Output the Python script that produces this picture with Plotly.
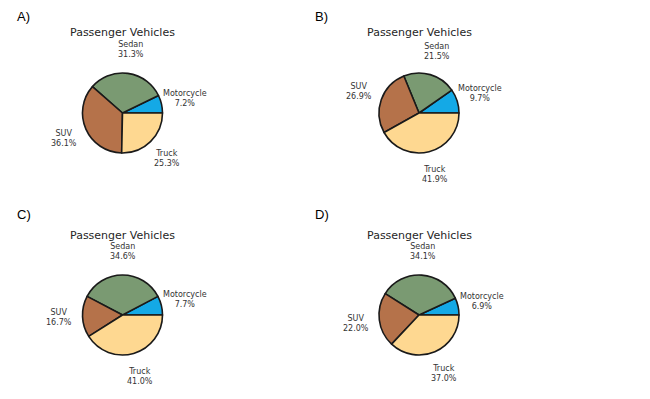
import math
import plotly.graph_objects as go

categories = ["Motorcycle", "Sedan", "SUV", "Truck"]
values_A = [7.2, 31.3, 36.1, 25.3]
values_B = [9.7, 21.5, 26.9, 41.9]
values_C = [7.7, 34.6, 16.7, 41.0]
values_D = [6.9, 34.1, 22.0, 37.0]
panel_labels = ["A)", "B)", "C)", "D)"]
chart_title = "Passenger Vehicles"
colors = ["#14a9e6", "#7a9a72", "#b5724a", "#fed891"]

OFF = 8  # page body margin in the browser
W, H = 650 - OFF, 399 - OFF
R = 40  # pie radius in px
LABEL_DIST = 1.6
centers = [(122.5 - OFF, 113 - OFF), (419 - OFF, 113 - OFF),
           (122.5 - OFF, 315 - OFF), (419 - OFF, 315 - OFF)]
panel_pos = [(16 - OFF, 7 - OFF), (314 - OFF, 7 - OFF),
             (16 - OFF, 206 - OFF), (314 - OFF, 206 - OFF)]
all_values = [values_A, values_B, values_C, values_D]

fig = go.Figure()
annotations = []
for vals, (cx, cy), plab, (px, py) in zip(all_values, centers, panel_labels, panel_pos):
    total = sum(vals)
    fig.add_trace(go.Pie(
        labels=categories, values=vals, sort=False,
        direction="counterclockwise", rotation=90 - 360 * vals[0] / total,
        marker=dict(colors=colors, line=dict(color="#1a1a1a", width=1.6)),
        textinfo="none", hoverinfo="label+percent", showlegend=False,
        domain=dict(x=[(cx - R) / W, (cx + R) / W], y=[1 - (cy + R) / H, 1 - (cy - R) / H]),
    ))
    cum = 0.0
    for lab, v in zip(categories, vals):
        theta = 2 * math.pi * (cum + v / 2) / total
        cum += v
        lx = cx + LABEL_DIST * R * math.cos(theta)
        ly = cy - LABEL_DIST * R * math.sin(theta)
        annotations.append(dict(
            x=lx / W, y=1 - ly / H, xref="paper", yref="paper",
            text=f"{lab}<br>{100 * v / total:.1f}%", showarrow=False,
            xanchor="center", yanchor="middle", align="center",
            font=dict(family="DejaVu Sans", size=8, color="#333333"),
        ))
    annotations.append(dict(
        x=cx / W, y=1 - (cy - 80) / H, xref="paper", yref="paper",
        text=chart_title, showarrow=False, xanchor="center", yanchor="middle",
        font=dict(family="DejaVu Sans", size=11, color="#262626"),
    ))
    annotations.append(dict(
        x=px / W, y=min(1.0, 1 - py / H), xref="paper", yref="paper",
        text=plab, showarrow=False, xanchor="left", yanchor="top",
        borderpad=0,
        font=dict(family="Liberation Sans", size=13, color="#000000"),
    ))

fig.update_layout(
    width=W, height=H, margin=dict(l=0, r=0, t=0, b=0),
    paper_bgcolor="white", plot_bgcolor="white",
    annotations=annotations,
)
fig.write_html("out.html")
